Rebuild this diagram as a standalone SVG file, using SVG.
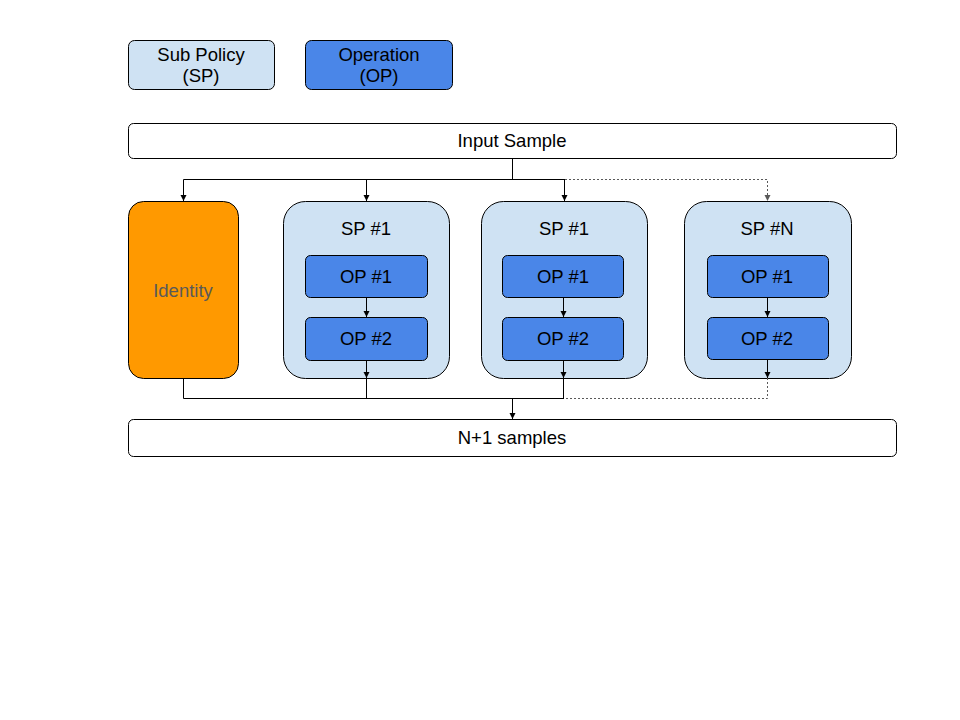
<svg xmlns="http://www.w3.org/2000/svg" width="960" height="720" viewBox="0 0 960 720">
<defs>
<marker id="ah" markerWidth="8" markerHeight="8" refX="7" refY="4" orient="auto" markerUnits="userSpaceOnUse" viewBox="0 0 8 8">
<path d="M1,1 L7,4 L1,7 Z" fill="#000"/>
</marker>
<marker id="ahg" markerWidth="8" markerHeight="8" refX="7" refY="4" orient="auto" markerUnits="userSpaceOnUse" viewBox="0 0 8 8">
<path d="M1,1 L7,4 L1,7 Z" fill="#595959"/>
</marker>
<style>
text{font-family:"Liberation Sans",Arial,sans-serif;font-size:18.5px;text-anchor:middle;fill:#000}
.sp{fill:#cfe2f3;stroke:#000;stroke-width:1}
.op{fill:#4a86e8;stroke:#000;stroke-width:1}
.wb{fill:#fff;stroke:#000;stroke-width:1}
.ln{fill:none;stroke:#000;stroke-width:1}
.dl{fill:none;stroke:#595959;stroke-width:1;stroke-dasharray:2,2}
</style>
</defs>
<g id="legend-sp"><rect class="sp" x="128.5" y="40.5" width="146" height="49" rx="6"/><text x="201" y="61">Sub Policy</text><text x="201" y="82">(SP)</text></g>
<g id="legend-op"><rect class="op" x="305.5" y="40.5" width="147" height="49" rx="6"/><text x="379" y="61">Operation</text><text x="379" y="82">(OP)</text></g>
<g id="input"><rect class="wb" x="128.5" y="123.5" width="768" height="35" rx="5"/><text x="512" y="147">Input Sample</text></g>
<g id="identity"><rect x="128.5" y="201.5" width="110" height="177" rx="15" fill="#ff9900" stroke="#000"/><text x="183" y="297" style="fill:#595959">Identity</text></g>
<g id="sp1a"><rect class="sp" x="283.5" y="201.5" width="166" height="177" rx="22"/><text x="366" y="235">SP #1</text>
<g id="sp1a-op1"><rect class="op" x="305.5" y="255.5" width="122" height="42" rx="5"/><text x="366" y="283">OP #1</text></g>
<g id="sp1a-op2"><rect class="op" x="305.5" y="317.5" width="122" height="43" rx="5"/><text x="366" y="345">OP #2</text></g></g>
<g id="sp1b"><rect class="sp" x="481.5" y="201.5" width="166" height="177" rx="22"/><text x="564" y="235">SP #1</text>
<g id="sp1b-op1"><rect class="op" x="502.5" y="255.5" width="121" height="42" rx="5"/><text x="563" y="283">OP #1</text></g>
<g id="sp1b-op2"><rect class="op" x="502.5" y="317.5" width="121" height="43" rx="5"/><text x="563" y="345">OP #2</text></g></g>
<g id="spN"><rect class="sp" x="684.5" y="201.5" width="167" height="177" rx="22"/><text x="767" y="235">SP #N</text>
<g id="spN-op1"><rect class="op" x="707.5" y="255.5" width="121" height="42" rx="5"/><text x="767" y="283">OP #1</text></g>
<g id="spN-op2"><rect class="op" x="707.5" y="317.5" width="121" height="42" rx="5"/><text x="767" y="345">OP #2</text></g></g>
<g id="output"><rect class="wb" x="128.5" y="419.5" width="768" height="37" rx="5"/><text x="512" y="444">N+1 samples</text></g>
<g id="connectors">
<path class="ln" d="M512.5,158 V179.5"/>
<path class="ln" d="M183.5,179.5 H565"/>
<path class="ln" d="M183.5,179.5 V201" marker-end="url(#ah)"/>
<path class="ln" d="M366.5,179.5 V201" marker-end="url(#ah)"/>
<path class="ln" d="M564.5,179.5 V201" marker-end="url(#ah)"/>
<path class="dl" d="M565,179.5 H767.5 V201" marker-end="url(#ahg)"/>
<path class="ln" d="M366.5,297 V317" marker-end="url(#ah)"/>
<path class="ln" d="M563.5,297 V317" marker-end="url(#ah)"/>
<path class="ln" d="M767.5,297 V317" marker-end="url(#ah)"/>
<path class="ln" d="M366.5,360 V378" marker-end="url(#ah)"/>
<path class="ln" d="M563.5,360 V378" marker-end="url(#ah)"/>
<path class="ln" d="M767.5,359 V378" marker-end="url(#ah)"/>
<path class="ln" d="M183.5,378 V398.5 H564"/>
<path class="ln" d="M366.5,378 V398.5"/>
<path class="ln" d="M563.5,378 V398.5"/>
<path class="dl" d="M767.5,378 V398.5 H564"/>
<path class="ln" d="M512.5,398.5 V419" marker-end="url(#ah)"/>
</g>
</svg>
